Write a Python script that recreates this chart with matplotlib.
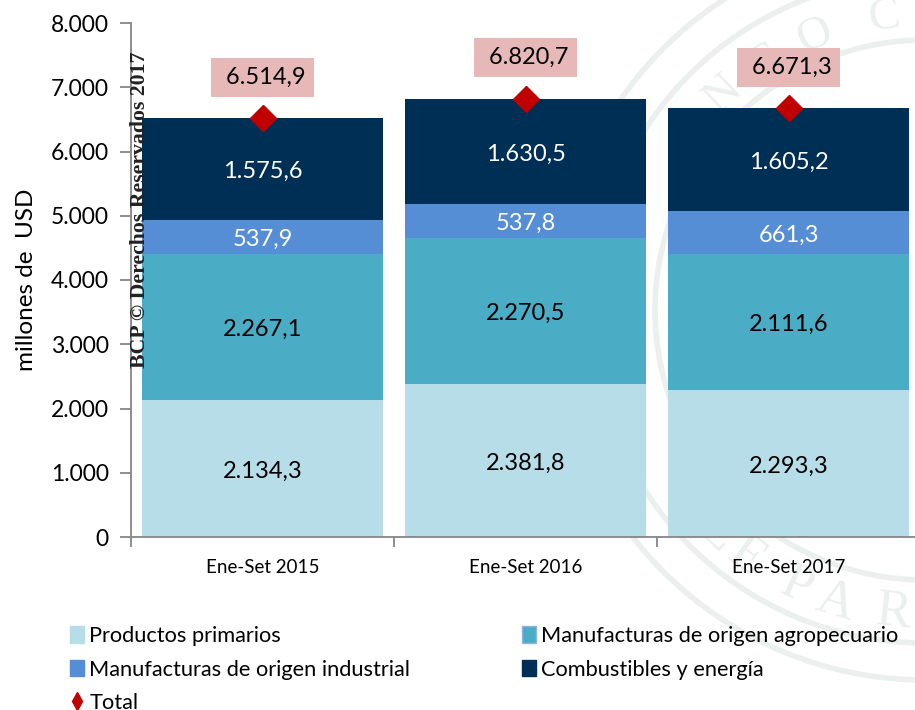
import numpy as np
import matplotlib
matplotlib.use('Agg')
import matplotlib.pyplot as plt
from matplotlib.lines import Line2D
from matplotlib.patches import Circle, Patch

periods = ['Ene-Set 2015', 'Ene-Set 2016', 'Ene-Set 2017']
primarios = [2134.3, 2381.8, 2293.3]
agropecuario = [2267.1, 2270.5, 2111.6]
industrial = [537.9, 537.8, 661.3]
combustibles = [1575.6, 1630.5, 1605.2]
total = [6514.9, 6820.7, 6671.3]
y_ticks = [0, 1000, 2000, 3000, 4000, 5000, 6000, 7000, 8000]

W, H = 915, 710
plt.rcParams['font.family'] = ['Lato', 'DejaVu Sans']


def fmt(v):
    return f'{v:,.1f}'.replace(',', ' ').replace('.', ',').replace(' ', '.')


fig = plt.figure(figsize=(9.15, 7.10), dpi=100)

# seal in the background, in pixel coordinates of the page
bg = fig.add_axes([0, 0, 1, 1], zorder=0)
bg.set_xlim(0, W)
bg.set_ylim(H, 0)
bg.axis('off')
seal_x, seal_y = 925, 310
seal_color = '#ebefed'
for r, lw in [(370, 4), (333, 4), (270, 4)]:
    bg.add_patch(Circle((seal_x, seal_y), r, fill=False, ec=seal_color, lw=lw))
for letter, angle in zip('NCOC', [-43, -33, -22, -8]):
    a = np.radians(angle)
    bg.text(seal_x + 295 * np.sin(a), seal_y - 295 * np.cos(a), letter, rotation=-angle,
            fontsize=34, family='Liberation Serif', color=seal_color, ha='center', va='center')
for letter, angle in zip('LEPAR', [43, 36, 25, 17, 6]):
    a = np.radians(angle)
    bg.text(seal_x - 305 * np.sin(a), seal_y + 305 * np.cos(a), letter, rotation=-angle,
            fontsize=38, family='Liberation Serif', color=seal_color, ha='center', va='center')

# 263 px per category, the third one runs past the page edge
ax = fig.add_axes([131 / W, 1 - 537 / H, 789 / W, 514 / H], zorder=1)
ax.patch.set_alpha(0)

x = np.arange(len(periods))
colors = ['#b7dde8', '#4bacc6', '#558ed5', '#002f55']
names = ['Productos primarios', 'Manufacturas de origen agropecuario',
         'Manufacturas de origen industrial', 'Combustibles y energía']
series = [primarios, agropecuario, industrial, combustibles]
label_colors = ['black', 'black', 'white', 'white']
bottom = np.zeros(len(periods))
for vals, color, text_color in zip(series, colors, label_colors):
    bars = ax.bar(x, vals, width=0.917, bottom=bottom, color=color, clip_on=False)
    ax.bar_label(bars, labels=[fmt(v) for v in vals], label_type='center', padding=-2,
                 color=text_color, fontsize=17)
    bottom += np.array(vals)

ax.plot(x, total, ls='none', marker='D', ms=13, color='#c00000', zorder=5, clip_on=False)
for xi, v in zip(x, total):
    ax.annotate(' ' + fmt(v), (xi, v), xytext=(0, 41), textcoords='offset pixels', ha='center',
                va='center', fontsize=17, color='black',
                bbox=dict(boxstyle='square,pad=0.38', fc='#e6b8b7', ec='none'))

ax.set_xlim(-0.5, 2.5)
ax.set_ylim(0, 8000)
ax.set_yticks(y_ticks)
ax.set_yticklabels([f'{t:,}'.replace(',', '.') for t in y_ticks], fontsize=16.5)
ax.set_xticks([-0.5, 0.5, 1.5])
ax.set_xticklabels([])
ax.set_xticks(x, minor=True)
ax.set_xticklabels(periods, minor=True, fontsize=13.5)
ax.tick_params(axis='x', which='minor', length=0, pad=16)
ax.tick_params(axis='x', which='major', length=7, color='#868686', width=1.3)
ax.tick_params(axis='y', length=8, color='#868686', width=1.3, pad=8)
ax.set_ylabel('millones de  USD', fontsize=17.5, labelpad=10)
for side in ['top', 'right']:
    ax.spines[side].set_visible(False)
for side in ['left', 'bottom']:
    ax.spines[side].set_color('#868686')
    ax.spines[side].set_linewidth(1.3)

handles = [Patch(fc=colors[0], ec=colors[0]),
           Patch(fc=colors[2], ec=colors[2]),
           Line2D([], [], ls='none', marker='d', ms=9, color='#c00000'),
           Patch(fc=colors[1], ec='#8fb4e3'),
           Patch(fc=colors[3], ec=colors[3])]
labels = [names[0], names[2], 'Total', names[1], names[3]]
fig.legend(handles, labels, ncols=2, loc='upper left', bbox_to_anchor=(70 / W, 1 - 626 / H),
           frameon=False, fontsize=15.7, handlelength=0.65, handleheight=0.8, handletextpad=0.23,
           columnspacing=5.14, labelspacing=0.62, borderpad=0, borderaxespad=0)

fig.text(140 / W, 1 - 210 / H, 'BCP © Derechos Reservados 2017', rotation=90, ha='center',
         va='center', fontsize=15.7, fontweight='bold', family='Liberation Serif',
         color='#222222', zorder=6)

fig.savefig('out.png', dpi=100)
